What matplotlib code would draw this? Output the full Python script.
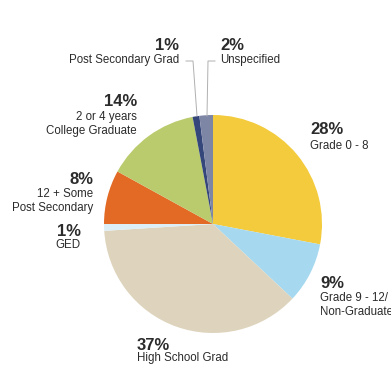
import matplotlib
matplotlib.use("Agg")
import matplotlib.pyplot as plt

categories = ["Grade 0 - 8", "Grade 9 - 12/\nNon-Graduate", "High School Grad", "GED",
              "12 + Some\nPost Secondary", "2 or 4 years\nCollege Graduate",
              "Post Secondary Grad", "Unspecified"]
values = [28, 9, 37, 1, 8, 14, 1, 2]
colors = ["#F3CB3C", "#A6D9F0", "#DED4BD", "#DCEEF6", "#E26A25", "#BACB6E", "#34467A", "#7E86A6"]

W, H = 391, 367
fig = plt.figure(figsize=(W / 100, H / 100), dpi=100)
ax = fig.add_axes([0, 0, 1, 1])
ax.set_xlim(0, W)
ax.set_ylim(0, H)
ax.set_aspect("equal")
ax.axis("off")

cx, cy, r = 213, H - 224, 109
ax.pie(values, colors=colors, startangle=90, counterclock=False,
       center=(cx, cy), radius=r, wedgeprops=dict(linewidth=0))
ax.set_xlim(0, W)
ax.set_ylim(0, H)

fam = ["Liberation Sans Narrow", "Liberation Sans", "DejaVu Sans"]
tc = "#2b2b2b"

# index, x, y of percent, y of first label line, alignment
labels = [
    (0, 310, 129, 146, "left"),
    (1, 320, 283, 298, "left"),
    (2, 137, 345, 358, "left"),
    (3, 81, 232, 245, "right"),
    (4, 93, 180, 194, "right"),
    (5, 137, 102, 117, "right"),
    (6, 179, 45, 60, "right"),
    (7, 220, 46, 60, "left"),
]
for i, x, yp, yl, ha in labels:
    ax.text(x, H - yp, f"{values[i]}%", ha=ha, va="center", fontsize=12,
            fontweight="bold", family=fam, color=tc)
    for k, line in enumerate(categories[i].split("\n")):
        ax.text(x, H - (yl + 14 * k), line, ha=ha, va="center", fontsize=8.3,
                family=fam, color=tc)

# leader lines
lc = "#b0b0b0"
ax.plot([186, 193, 197], [H - 61, H - 61, H - 116], color=lc, lw=0.7)
ax.plot([215, 208, 207], [H - 61, H - 61, H - 116], color=lc, lw=0.7)

fig.savefig("out.png", dpi=100)
